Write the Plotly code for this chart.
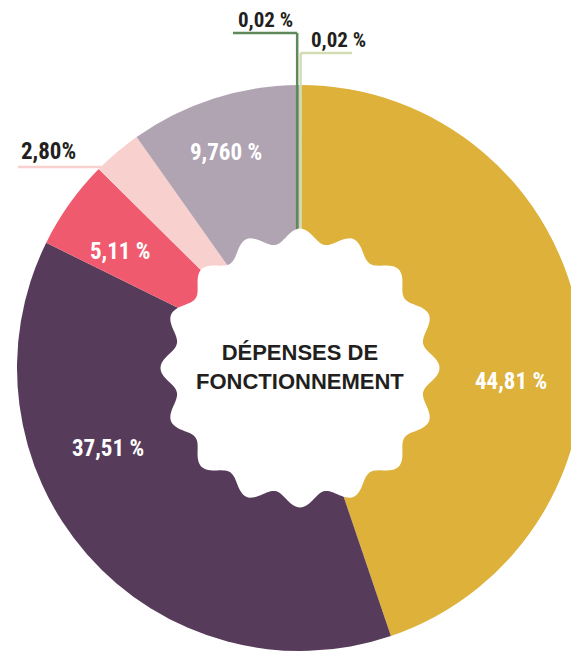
import math
import plotly.graph_objects as go

# ---- data ----
categories = ["Poste 1", "Poste 2", "Poste 3", "Poste 4", "Poste 5", "Poste 6", "Poste 7"]
values = [44.81, 37.51, 5.11, 2.80, 9.76, 0.02, 0.02]
value_labels = ["44,81 %", "37,51 %", "5,11 %", "2,80%", "9,760 %", "0,02 %", "0,02 %"]
colors = ["#DDB13A", "#573B5A", "#F05A6E", "#F8D0CD", "#B0A3B2", "#5E8A5A", "#D3DDB5"]
center_title = "DÉPENSES DE<br>FONCTIONNEMENT"

# page body has an 8px margin: work in screen px and convert
OFF = 8
W, H = 579, 654
CX, CY, R = 300, 368, 283  # pie geometry in screen px


def px(x):
    return (x - OFF) / W


def py(y):
    return 1 - (y - OFF) / H


fig = go.Figure()
fig.add_trace(go.Pie(
    labels=categories, values=values, sort=False, direction="clockwise", rotation=0,
    marker=dict(colors=colors, line=dict(width=0)),
    textinfo="none", hoverinfo="label+value", showlegend=False,
    domain=dict(x=[max(0, px(CX - R)), min(1, px(CX + R))],
                y=[max(0, py(CY + R)), min(1, py(CY - R))]),
))

# slice angles (clockwise from 12 o'clock)
total = sum(values)
cum = 0
mid_angles = []
for v in values:
    mid_angles.append((cum + v / 2) / total * 2 * math.pi)
    cum += v

# scalloped white centre
ccx, ccy = 300, 368
n = 480
pts = []
for i in range(n):
    t = 2 * math.pi * i / n
    r = 132.5 + 7 * math.cos(16 * t)
    pts.append((ccx + r * math.cos(t), ccy - r * math.sin(t)))
path = "M " + " L ".join(f"{px(x):.5f},{py(y):.5f}" for x, y in pts) + " Z"
cloud = dict(type="path", path=path, xref="paper", yref="paper",
             fillcolor="white", line=dict(width=0), layer="above")

shapes = []
# leader lines for the tiny slices
x6 = CX + R * math.sin(mid_angles[5]) - 2.3
x7 = CX + R * math.sin(mid_angles[6]) + 0.8
cloud_top = ccy - 132
for (xv, ytop, xh0, col) in [(x6, 33, 233, colors[5]), (x7, 53, 352, colors[6])]:
    shapes.append(dict(type="line", xref="paper", yref="paper",
                       x0=px(xv), x1=px(xv), y0=py(ytop), y1=py(cloud_top + 4),
                       line=dict(color=col, width=2.5), layer="above"))
    shapes.append(dict(type="line", xref="paper", yref="paper",
                       x0=px(xh0), x1=px(xv), y0=py(ytop), y1=py(ytop),
                       line=dict(color=col, width=2.5), layer="above"))
# leader line for 2,80 %
shapes.append(dict(type="line", xref="paper", yref="paper",
                   x0=px(18), x1=px(101), y0=py(167), y1=py(167),
                   line=dict(color=colors[3], width=2.5), layer="above"))
shapes.append(cloud)

COND = "Liberation Sans Narrow, Roboto Condensed, Arial Narrow, Roboto, sans-serif"
label_pos = [(511, 381), (108, 448), (120, 251), (48, 151), (226, 152), (265, 20), (338, 40)]
label_col = ["white", "white", "white", "#231F20", "white", "#231F20", "#231F20"]
label_size = [23, 23, 23, 23, 23, 21, 21]
annotations = []
for txt, (x, y), c, s in zip(value_labels, label_pos, label_col, label_size):
    annotations.append(dict(text=f"<b>{txt}</b>", x=px(x), y=py(y), xref="paper", yref="paper",
                            showarrow=False, xanchor="center", yanchor="middle", borderpad=0,
                            font=dict(family=COND, size=s, color=c)))
annotations.append(dict(text=f"<b>{center_title}</b>", x=px(300), y=py(367),
                        xref="paper", yref="paper", showarrow=False,
                        xanchor="center", yanchor="middle",
                        font=dict(family="Liberation Sans, Arial, sans-serif", size=22, color="#231F20")))

fig.update_layout(width=W, height=H, margin=dict(l=0, r=0, t=0, b=0),
                  paper_bgcolor="white", plot_bgcolor="white",
                  shapes=shapes, annotations=annotations)
fig.write_html("out.html",
               post_script="document.documentElement.style.overflow='hidden';"
                           "document.body.style.overflow='hidden';")
